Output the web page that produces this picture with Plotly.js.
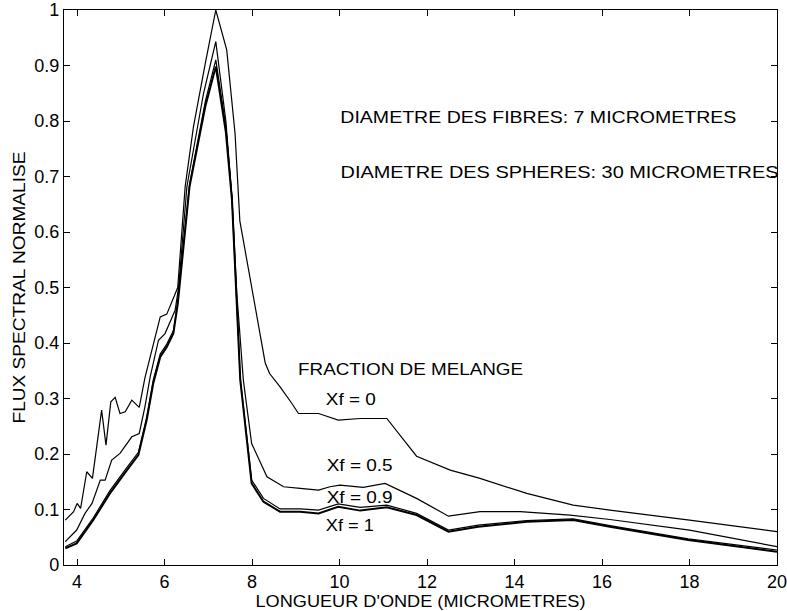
<!DOCTYPE html>
<html>
<head>
<meta charset="utf-8">
<script src="https://cdn.plot.ly/plotly-3.0.1.min.js"></script>
<style>html,body{margin:0;padding:0;background:#fff;}#chart{width:787px;height:611px;}</style>
</head>
<body>
<div id="chart"></div>
<script>
// Wavelength (micrometres) and normalised spectral flux, per mixing fraction Xf
const xXf0 = [3.73, 3.92, 4.0, 4.08, 4.22, 4.35, 4.56, 4.66, 4.77, 4.87, 4.98, 5.10, 5.25, 5.42, 5.55, 5.71, 5.90, 6.05, 6.24, 6.30, 6.47, 6.66, 6.93, 7.17, 7.42, 7.61, 7.72, 8.30, 8.40, 8.64, 8.91, 9.06, 9.52, 9.97, 10.47, 11.08, 11.76, 12.53, 13.21, 14.28, 15.34, 16.18, 18.0, 20.0];
const yXf0 = [0.081, 0.096, 0.111, 0.102, 0.168, 0.156, 0.279, 0.216, 0.294, 0.302, 0.273, 0.276, 0.297, 0.284, 0.337, 0.387, 0.447, 0.452, 0.490, 0.500, 0.682, 0.790, 0.904, 1.000, 0.928, 0.778, 0.620, 0.364, 0.345, 0.321, 0.291, 0.273, 0.273, 0.261, 0.264, 0.264, 0.196, 0.171, 0.156, 0.129, 0.108, 0.099, 0.081, 0.060];

const xXf05 = [3.73, 3.99, 4.18, 4.34, 4.53, 4.64, 4.79, 4.98, 5.25, 5.42, 5.55, 5.67, 5.86, 6.01, 6.24, 6.32, 6.51, 6.89, 7.17, 7.40, 7.54, 7.65, 7.80, 7.99, 8.34, 8.72, 9.10, 9.52, 9.78, 10.01, 10.54, 11.04, 11.76, 12.49, 13.21, 14.13, 15.27, 16.18, 18.0, 20.0];
const yXf05 = [0.042, 0.063, 0.093, 0.111, 0.153, 0.153, 0.189, 0.201, 0.231, 0.237, 0.285, 0.339, 0.405, 0.417, 0.459, 0.500, 0.682, 0.850, 0.943, 0.800, 0.662, 0.490, 0.333, 0.219, 0.159, 0.141, 0.138, 0.135, 0.141, 0.144, 0.140, 0.147, 0.120, 0.088, 0.096, 0.096, 0.090, 0.082, 0.063, 0.033];

const xXf09 = [3.73, 3.99, 4.37, 4.75, 5.14, 5.40, 5.59, 5.74, 5.90, 6.05, 6.20, 6.30, 6.57, 6.93, 7.17, 7.40, 7.54, 7.65, 7.73, 7.99, 8.26, 8.64, 9.10, 9.52, 9.97, 10.47, 11.08, 11.76, 12.49, 13.17, 14.28, 15.34, 15.73, 16.18, 17.97, 20.0];
const yXf09 = [0.033, 0.043, 0.085, 0.134, 0.176, 0.203, 0.266, 0.333, 0.380, 0.398, 0.422, 0.475, 0.686, 0.835, 0.910, 0.790, 0.662, 0.480, 0.336, 0.153, 0.120, 0.101, 0.101, 0.099, 0.110, 0.104, 0.108, 0.093, 0.063, 0.072, 0.080, 0.083, 0.077, 0.071, 0.047, 0.027];

const xXf1 = [3.73, 3.99, 4.37, 4.75, 5.14, 5.40, 5.59, 5.74, 5.90, 6.05, 6.20, 6.30, 6.57, 6.93, 7.17, 7.40, 7.54, 7.65, 7.73, 7.99, 8.26, 8.64, 9.10, 9.52, 9.97, 10.47, 11.08, 11.76, 12.49, 13.17, 14.28, 15.34, 15.73, 16.18, 17.97, 20.0];
const yXf1 = [0.030, 0.039, 0.081, 0.129, 0.171, 0.198, 0.261, 0.327, 0.375, 0.393, 0.417, 0.470, 0.682, 0.826, 0.898, 0.780, 0.658, 0.477, 0.333, 0.147, 0.114, 0.096, 0.096, 0.093, 0.105, 0.098, 0.104, 0.090, 0.060, 0.069, 0.078, 0.081, 0.075, 0.069, 0.045, 0.024];

const xTicks = [4, 6, 8, 10, 12, 14, 16, 18, 20];
const yTicks = [0, 0.1, 0.2, 0.3, 0.4, 0.5, 0.6, 0.7, 0.8, 0.9, 1];

const noteTexts = ['DIAMETRE DES FIBRES: 7 MICROMETRES', 'DIAMETRE DES SPHERES: 30 MICROMETRES', 'FRACTION DE MELANGE', 'Xf = 0', 'Xf = 0.5', 'Xf = 0.9', 'Xf = 1'];
const xTitle = "LONGUEUR D'ONDE (MICROMETRES)";
const yTitle = 'FLUX SPECTRAL NORMALISE';

const FONT = "Liberation Sans, Arial, sans-serif";

// placement (layout) of the text notes: centre in data units, and rendered width in px
const notePos = [[14.537, 0.807, 396], [15.017, 0.708, 438], [11.623, 0.353, 225], [10.263, 0.299, 50], [10.446, 0.180, 66], [10.446, 0.123, 66], [10.24, 0.072, 48]];

function line(x, y, w) {
  return {x: x, y: y, type: 'scatter', mode: 'lines', line: {color: '#000', width: w}, showlegend: false, hoverinfo: 'skip'};
}

const data = [
  line(xXf0, yXf0, 1.2),
  line(xXf05, yXf05, 1.2),
  line(xXf09, yXf09, 1.2),
  line(xXf1, yXf1, 2)
];

const annotations = noteTexts.map((t, i) => ({
  text: t, x: notePos[i][0], y: notePos[i][1], xref: 'x', yref: 'y', xanchor: 'center', yanchor: 'middle',
  showarrow: false, font: {family: FONT, size: 16.5, color: '#000'}
}));

const layout = {
  width: 787, height: 611,
  margin: {l: 64, r: 10, t: 10, b: 46},
  paper_bgcolor: '#fff', plot_bgcolor: '#fff',
  font: {family: FONT, color: '#000', size: 18},
  xaxis: {
    range: [3.7, 20], tickvals: xTicks, ticks: 'inside', ticklen: 6, tickcolor: '#000',
    showline: true, linecolor: '#000', linewidth: 1.2, mirror: 'ticks', showgrid: false, zeroline: false,
    tickfont: {family: FONT, size: 18}, ticklabeloverflow: 'allow',
    title: {text: xTitle, font: {family: FONT, size: 16.5}, standoff: 2}
  },
  yaxis: {
    range: [0, 1], tickvals: yTicks, ticks: 'inside', ticklen: 6, tickcolor: '#000',
    showline: true, linecolor: '#000', linewidth: 1.2, mirror: 'ticks', showgrid: false, zeroline: false,
    tickfont: {family: FONT, size: 18}, ticklabeloverflow: 'allow',
    title: {text: yTitle, font: {family: FONT, size: 16.5}, standoff: 4}
  },
  annotations: annotations
};

Plotly.newPlot('chart', data, layout, {displayModeBar: false, staticPlot: true}).then(gd => {
  // The reference lettering is horizontally wide; stretch text to its widths
  const texts = gd.querySelectorAll('.annotation-text');
  texts.forEach((el, i) => {
    if (notePos[i]) {
      el.setAttribute('textLength', notePos[i][2]);
      el.setAttribute('lengthAdjust', 'spacingAndGlyphs');
    }
  });
  const xt = gd.querySelector('.xtitle');
  if (xt) { xt.setAttribute('textLength', 330); xt.setAttribute('lengthAdjust', 'spacingAndGlyphs'); }
  const yt = gd.querySelector('.ytitle');
  if (yt) { yt.setAttribute('textLength', 272); yt.setAttribute('lengthAdjust', 'spacingAndGlyphs'); }
});
</script>
</body>
</html>
